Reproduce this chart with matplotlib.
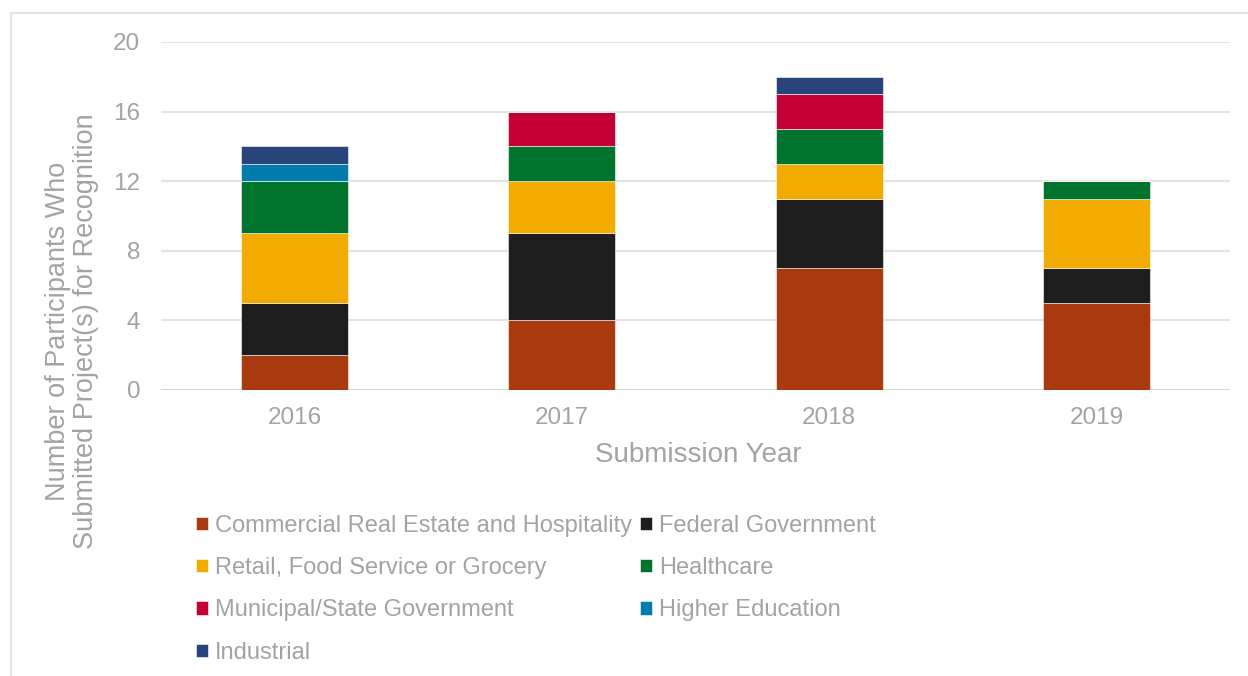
import matplotlib.pyplot as plt
from matplotlib.patches import Rectangle
import numpy as np

plt.rcParams['font.family'] = ['Liberation Sans', 'DejaVu Sans']

# ----------- DATA ------------
years = ['2016', '2017', '2018', '2019']
sectors = ['Commercial Real Estate and Hospitality', 'Federal Government',
           'Retail, Food Service or Grocery', 'Healthcare',
           'Municipal/State Government', 'Higher Education', 'Industrial']
commercial = [2, 4, 7, 5]
federal = [3, 5, 4, 2]
retail = [4, 3, 2, 4]
healthcare = [3, 2, 2, 1]
municipal = [0, 2, 2, 0]
higher_ed = [1, 0, 0, 0]
industrial = [1, 0, 1, 0]
series = [commercial, federal, retail, healthcare, municipal, higher_ed, industrial]
colors = ['#A9390F', '#1E1E1E', '#F2AB00', '#00742C', '#C30035', '#007DAD', '#27457A']
yticks = [0, 4, 8, 12, 16, 20]

TXT = '#A3A3A6'
W, H = 1248, 676

fig = plt.figure(figsize=(W / 100, H / 100), dpi=100)
fig.patches.append(Rectangle((11 / W, -0.1), 1.2, 1 - 13 / H + 0.1, transform=fig.transFigure,
                             fill=False, edgecolor='#E3E3E3', linewidth=1.5, zorder=0))

ax = fig.add_axes([161 / W, (H - 390) / H, 1069 / W, 348 / H])
x = np.arange(len(years))
bottom = np.zeros(len(years))
handles = []
for vals, c, name in zip(series, colors, sectors):
    b = ax.bar(x, vals, 0.4, bottom=bottom, color=c, label=name,
               edgecolor='white', linewidth=0.4, zorder=3)
    handles.append(b)
    bottom += np.array(vals)

ax.set_xlim(-0.5, 3.5)
ax.set_ylim(0, 20)
ax.set_yticks(yticks)
ax.set_xticks(x, years)
ax.grid(axis='y', color='#E3E3E3', linewidth=1.5, zorder=0)
for s in ax.spines.values():
    s.set_visible(False)
ax.axhline(0, color='#D9D9D9', linewidth=1.5, zorder=2)
ax.tick_params(length=0, labelsize=17.5, labelcolor=TXT)
ax.tick_params(axis='y', pad=15)
ax.tick_params(axis='x', pad=12)

fig.text(698 / W, 1 - 455 / H, 'Submission Year', ha='center', va='center',
         fontsize=20, color=TXT)
fig.text(72 / W, 1 - 331 / H, 'Number of Participants Who\nSubmitted Project(s) for Recognition',
         rotation=90, ha='center', va='center', multialignment='center',
         fontsize=19.5, color=TXT, linespacing=1.1)

# legend: column-major order so rows read left to right
order = [0, 2, 4, 6, 1, 3, 5]
leg = fig.legend([handles[i] for i in order], [sectors[i] for i in order],
                 ncol=2, loc='upper left', bbox_to_anchor=(184 / W, 1 - 503 / H),
                 frameon=False, fontsize=17, labelcolor=TXT,
                 handlelength=0.5, handleheight=0.5, handletextpad=0.3,
                 columnspacing=0.35, labelspacing=0.86, borderpad=0)

fig.savefig('out.png', dpi=100)
